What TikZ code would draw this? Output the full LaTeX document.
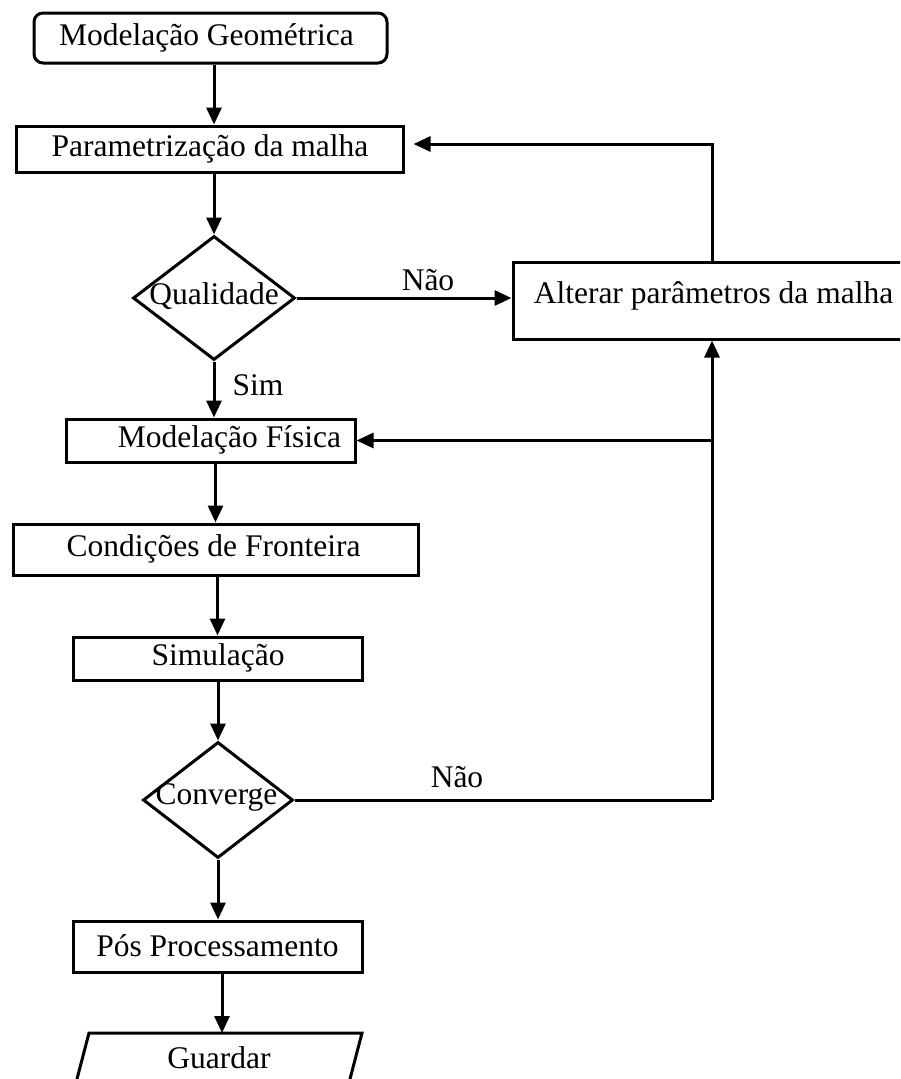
\documentclass[tikz,border=0pt]{standalone}
\usepackage{fontspec}
\setmainfont{Liberation Serif}
\usetikzlibrary{shapes.geometric,arrows.meta,calc}
\begin{document}
\begin{tikzpicture}[x=1pt,y=-1pt,
  every node/.style={font=\fontsize{31.5}{36}\selectfont},
  box/.style={draw,line width=3pt,inner sep=0pt,rectangle},
  dec/.style={draw,line width=3pt,diamond,inner sep=0pt},
  lbl/.style={inner sep=0pt},
  arr/.style={line width=3pt,-{Triangle[length=17pt,width=15pt]}},
  ln/.style={line width=3pt}]
\useasboundingbox (0,0) rectangle (900,1079);
\clip (0,0) rectangle (900,1079);

% boxes
\node[box,rounded corners=9pt,minimum width=353pt,minimum height=50pt] (mg) at (210.5,38) {};
\node[lbl] (mgt) at (206.5,38) {Modelação Geométrica};

\node[box,minimum width=387pt,minimum height=46pt] (pm) at (209.5,149) {};
\node[lbl] (pmt) at (210,149) {Parametrização da malha};

\node[dec,minimum width=162pt,minimum height=124pt] (qual) at (214,298) {};
\node[lbl] (qualt) at (214,296) {Qualidade};

\node[box,minimum width=398pt,minimum height=77pt] (alt) at (712,300.5) {};
\node[lbl] (altt) at (713.5,296) {Alterar parâmetros da malha};

\node[box,minimum width=289pt,minimum height=43pt] (mf) at (210.5,440.5) {};
\node[lbl] (mft) at (229.5,440) {Modelação Física};

\node[box,minimum width=405pt,minimum height=51pt] (cf) at (215.5,549.5) {};
\node[lbl] (cft) at (213.5,549) {Condições de Fronteira};

\node[box,minimum width=289pt,minimum height=43pt] (sm) at (217.5,658.5) {};
\node[lbl] (smt) at (218,658) {Simulação};

\node[dec,minimum width=150pt,minimum height=116pt] (conv) at (218,800) {};
\node[lbl] (convt) at (216.5,797) {Converge};

\node[box,minimum width=289pt,minimum height=51pt] (pp) at (217.5,946.5) {};
\node[lbl] (ppt) at (217.5,946) {Pós Processamento};

% output parallelogram (cut by the page edge)
\coordinate (gtop) at (222,1033);
\draw[ln] (71.5,1100) -- (89,1033) -- (362,1033) -- (344.5,1100);
\node[lbl] (gdt) at (219,1058) {Guardar};

% labels
\node[lbl] (nao1) at (428,280) {Não};
\node[lbl] (sim) at (258,385) {Sim};
\node[lbl] (nao2) at (457,777) {Não};

% connectors
\draw[arr] (mg.south -| qual.north) -- (pm.north -| qual.north);
\draw[arr] (pm.south -| qual.north) -- (qual.north);
\draw[arr] (qual.east) -- (qual.east -| alt.west);
\draw[arr] (alt.north) |- ([xshift=9pt,yshift=5pt]pm.east);
\draw[arr] (qual.south) -- (qual.south |- mf.north);
\draw[arr] (alt.south |- mf.east) -- (mf.east);
\draw[arr] (mf.south -| cf.north) -- (cf.north);
\draw[arr] (cf.south -| sm.north) -- (sm.north);
\draw[arr] (sm.south -| conv.north) -- (conv.north);
\draw[ln] (conv.east) -- (conv.east -| alt.south);
\draw[arr] (conv.east -| alt.south) -- (alt.south);
\draw[arr] (conv.south) -- (conv.south |- pp.north);
\draw[arr] (pp.south -| gtop) -- (gtop);
\end{tikzpicture}
\end{document}
